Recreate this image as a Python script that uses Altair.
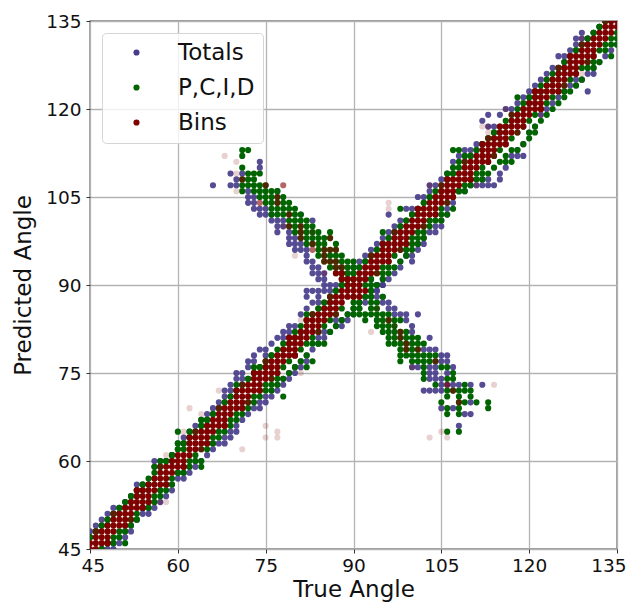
import altair as alt
import pandas as pd

TICKS = [45, 60, 75, 90, 105, 120, 135]
NAMES = ["Totals", "P,C,I,D", "Bins"]
COLORS = ["#483D8B", "#006400", "#800000"]

# true angle -> predicted angles
TOT_DIAG = {
45:[44,47,48],46:[43,44,48,49],47:[44,45,49,50],48:[44,45,50,51],49:[45,46,51,52],50:[46,47,52],51:[47,48,53],
52:[48,49,54],53:[50,55,56],54:[51,52,55,56],55:[51,52,56],56:[52,53,59,60],57:[53,60],58:[54,60],59:[55,56,61],
60:[57,58,63],61:[57,58,63,64],62:[58,59,64,65],63:[59,60,66],64:[60,66,67],65:[61,67,68],66:[62,63,69],67:[63,70],
68:[63,64,71,72],69:[64,65,72,73],70:[65,66,74,75],71:[67,74,75],72:[68,77,76],73:[69,77,78],74:[69,70,79],
75:[70,71,78,79],76:[71,72,80],77:[72,73,81],78:[73,74,81,82],79:[74,75,83,82],80:[75,76,83],81:[76,77,85],
82:[77,78,88,89,86],83:[79,89,87],84:[80,81,89,87,88],85:[81,82,89],86:[82,89,90],87:[83,84,90],88:[83,84,91],
89:[84,85,92],90:[85,93],91:[86,87,93,94],92:[87,88,95],93:[88,89,96],94:[89,90,97],95:[90,91,98],96:[91,102,99],
97:[92,100],98:[93,94,101],99:[95,96,103],100:[94,95,103],101:[96,97,105],102:[97,98,105],103:[99,107,106],
104:[99,100,107],105:[100,101,108],106:[102,103,109],107:[104,111],108:[106,112],109:[106,113,112],110:[107,113],
111:[107,114],112:[107,108,118],113:[107,108,119,117],114:[107,117],115:[108,109,119],116:[110,120],117:[112,120],
118:[112,113,121],119:[112,114,122],120:[116,122,123],121:[117,124],122:[119,125],123:[120,126],124:[121,127],
125:[122,129,127],126:[123,129,128],127:[124,130],128:[124,125,132,131],129:[125,133,132],130:[123,126,132],
131:[126,127,133],132:[128,134],133:[129,135],134:[130,135],135:[131,136]}
TOT_ARM_UP = {66:[107],69:[109,107],70:[108,107],71:[109],72:[104,106,105],73:[105,103,104],74:[111,110,102,103],75:[102,103],
76:[101,102],77:[106,100,99,101],78:[100,101],79:[97,98,99],80:[96,97,98],81:[102,96,97],82:[94,95,96],83:[101,92,93,94],84:[91,92,93],85:[91,90,92]}
TOT_ARM_DN = {92:[91],93:[91],94:[90,89,84,88],95:[90,88,87],96:[87,86],97:[86,85],98:[85],99:[85,84],100:[83,76,82],
101:[85,76],102:[79,72],103:[81,79,76,75,74,72],104:[79,76,75,74,72],105:[78,77,74,73,69,72],106:[78,77,75,73],
107:[76,73,69],108:[73,66],109:[68],110:[73,68,70],112:[73]}

GRN_DIAG = {
45:[47],46:[44,48],47:[45,49],48:[46,49,50],49:[46,51],50:[47,51],51:[46,48,52],52:[49,53],53:[50,54,55],
54:[52,55,56],55:[52,56],56:[53,57,59],57:[54,55,59,60],58:[55,60],59:[56,60,61],60:[58,65,62,63],61:[58,62,63],
62:[59,65,64],63:[60,65],64:[59,60,66,67],65:[62,66,67],66:[63,68],67:[64,69],68:[65,70],69:[66,71],70:[67,72,73],
71:[68,73],72:[69,74],73:[70,75,76],74:[71,76],75:[72,77,76],76:[72,73,78],77:[73,74,78],78:[71,74,79],79:[75,80],
80:[76,81],81:[77,82],82:[76,78,84,85],83:[77,80,85],84:[80,86],85:[80,87,86],86:[82,87,88],87:[83,89],88:[84,90],
89:[85,91],90:[86,92],91:[87,93],92:[88,94],93:[89,95],94:[90,96],95:[91,92,99,97],96:[92,93,98],97:[93,99],
98:[94,103,100],99:[95,96,101],100:[96,97,102],101:[97,98,103,102],102:[98,99,104],103:[100,101,105],104:[101,105],
105:[101,102,106],106:[102,109,108],107:[103,113,110,109],108:[106,113,111],109:[106,112],110:[107,108,112],
111:[108,113],112:[108,109,114],113:[109,115],114:[110,115,116],115:[111,116],116:[111,112,117],117:[111,113,118],
118:[113,122,119],119:[114,120],120:[115,116,121],121:[116,117,122],122:[118,123],123:[119,124],124:[120,125],
125:[121,126],126:[122,123,127],127:[123,129],128:[124,130],129:[125,131],130:[127,131,132],131:[127,128,133],
132:[128,134],133:[130,135],134:[129,131,135],135:[131,132]}
GRN_BAND = {
45:[47],46:[44,48],47:[45,49],48:[46,50],49:[47,51],50:[48,52],51:[49,53],52:[50,54],53:[51,55],54:[52,56],55:[53,57],
56:[54,58],57:[55,59],58:[56,60],59:[57,61],60:[58,62],61:[59,63],62:[60,64],63:[61,65],64:[62,66],65:[63,67],66:[64,68],
67:[65,69],68:[66,70],69:[67,71],70:[68,72],71:[69,73],72:[70,74],73:[71,75],74:[72,76],75:[73,77],76:[74,78],77:[75,79],
78:[76,80],79:[77,81],80:[78,82],81:[79,83],82:[80,84],83:[81,85],84:[82,86],85:[83,87],86:[84,88],87:[85,89],88:[86,90],
92:[90,94],93:[91,95],94:[92,96],95:[93,97],96:[94,98],97:[95,99],98:[96,100],99:[97,101],100:[98,102],101:[99,103],
102:[100,104],103:[101,105],104:[102,106],105:[103,107],106:[104,108],107:[105,109],108:[106,110],109:[107,111],
110:[108,112],111:[109,113],112:[110,114],113:[111,115],114:[112,116],115:[113,117],116:[114,118],117:[115,119],
118:[116,120],119:[117,121],120:[118,122],121:[119,123],122:[120,124],123:[121,125],124:[122,126],125:[123,127],
126:[124,128],127:[125,129],128:[126,130],129:[127,131],130:[128,132],131:[129,133],132:[130,134],133:[131,135],134:[132],135:[133]}
GRN_ARM_UP = {71:[113,112,110,108,107,106],72:[113,109,108,107],73:[109,108,107,106],74:[109,107,106,105],
75:[107,106,105,104],76:[106,105,104,103,102],77:[106,105,104,103,102],78:[105,104,103,102],79:[104,103,102,101,100],
80:[103,102,101,100,99],81:[102,101,100,99,98],82:[101,100,99,98,97],83:[100,99,98,97],84:[99,98,97,96,95],
85:[98,97,96,95,94],86:[99,98,96,95,94,93],87:[97,96,95,94,93,92],88:[95,94,93,92,91],89:[94,93,92,91,90],90:[94,93,92,91]}
GRN_ARM_DN = {90:[88,87,86,85],91:[87,86,85],92:[85,84],93:[90,89,88,87,86,85],94:[87,86,85,84,83],95:[88,85,84,83,82],
96:[85,84,83,82,81,80],97:[84,83,82,81,80],98:[84,82,81,80,79,78,77],99:[82,81,80,79,78],100:[81,80,79,78,77],101:[81,80,79,78,77],
102:[80,78,77,76,75,74],103:[78,77],104:[78,77,73],105:[76,70],106:[76,74,72,71,69,68,65],107:[75,74,72],
108:[72,71,70,69,68,65],109:[73,72,70],110:[72,71],111:[70],113:[70,69]}

BIN_FAINT = {62:[69],67:[72],64:[68],75:[66,64],77:[65,64],71:[62],81:[75,84],57:[53],58:[53,61],61:[65],68:[112],
70:[111,109,106],78:[100],83:[99],80:[95],85:[92],103:[107,64],111:[107],122:[119],116:[120],114:[73],105:[65],
106:[64],100:[76],94:[86],97:[83],93:[82],113:[117,116],112:[117],96:[103,104],131:[132],129:[126,132]}
BIN_MID_DIAG = {
46:[48],48:[46],49:[51],52:[50],53:[55],57:[59],58:[56],61:[59],63:[65],64:[62],67:[69],68:[66],71:[73],72:[70],
75:[77],76:[74],79:[81],80:[78],83:[85],84:[82],86:[88],87:[85],93:[95],94:[92],97:[99],98:[96],101:[103],102:[100],
105:[107],106:[104],109:[111],110:[108],113:[115],114:[112],117:[119],118:[116],121:[123],122:[120],125:[127],
126:[124],129:[131],130:[128],133:[135]}
BIN_MID_ARM = {71:[108],74:[104],75:[107],77:[105,104],78:[107],79:[102,100],81:[100,99,98],83:[97,96],85:[96,95,94],
86:[98,96,94],87:[96,94,93],88:[92,93],96:[84],98:[82,81],99:[80,79],101:[79],104:[77],106:[73],107:[72],108:[70]}
BIN_STRONG = {
45:[45,46],46:[45,46,47],47:[46,47,48],48:[46,47,48,49],49:[48,49,50],50:[49,50,51],51:[49,50,51,52],52:[51,52,53],
53:[52,53,54,55],54:[52,53,54,55],55:[53,54,55,56],56:[55,56,57],57:[56,57,58],58:[56,57,58,59],59:[58,59,60],
60:[59,60,61],61:[59,60,61],62:[61,62,63,64],63:[62,63,64],64:[63,64,65],65:[63,64,65,66],66:[65,66,67],67:[66,67,68],
68:[66,67,68,69],69:[68,69,70],70:[69,70,71,72],71:[69,70,71,72],72:[71,72,73],73:[72,73,74,75],74:[72,73,74,75],
75:[74,75,76],76:[75,76,77],77:[75,76,77,78],78:[77,78,79],79:[78,79,80,81],80:[78,79,80,81],81:[80,81,82],
82:[81,82,83,84],83:[82,83,84],84:[83,84,85],85:[84,85,86],86:[85,86,87],87:[86,87,88,92],88:[87,88,89,91,92],
89:[88,89,90,91],90:[88,89,90,91],91:[88,89,90,91,92],92:[89,91,92,93],93:[92,93,94],94:[93,94,95],95:[94,95,96,97],
96:[94,95,96,97],97:[96,97,98],98:[97,98,99],99:[97,98,99,100],100:[99,100,101],101:[100,101,102,103],102:[101,102,103],
103:[102,103,104],104:[102,103,104,105],105:[104,105,106],106:[105,106,107,108],107:[105,106,107,108],108:[107,108,109],
109:[108,109,110],110:[108,109,110,111],111:[110,111,112],112:[111,112,113,114],113:[111,112,113,114],114:[113,114,115],
115:[114,115,116,117],116:[114,115,116,117],117:[116,117,118],118:[117,118,119],119:[117,118,119,120],120:[119,120,121],
121:[120,121,122,123],122:[120,121,122,123],123:[122,123,124],124:[123,124,125],125:[123,124,125,126],126:[125,126,127],
127:[126,127,128,129],128:[126,127,128,129],129:[128,129,130],130:[129,130,131],131:[129,130,131,132],132:[131,132,133],
133:[132,133,134],134:[133,134,135],135:[134,135]}

rows = []
def add(name, cols, op):
    for x, ys in cols.items():
        for y in ys:
            rows.append({"true": x, "pred": y, "series": name, "op": op})

add("Totals", TOT_DIAG, 0.92); add("Totals", TOT_ARM_UP, 0.92); add("Totals", TOT_ARM_DN, 0.92)
add("P,C,I,D", GRN_DIAG, 1); add("P,C,I,D", GRN_BAND, 1); add("P,C,I,D", GRN_ARM_UP, 1); add("P,C,I,D", GRN_ARM_DN, 1)
add("Bins", BIN_FAINT, 0.18); add("Bins", BIN_MID_DIAG, 0.7); add("Bins", BIN_MID_ARM, 0.6); add("Bins", BIN_STRONG, 1)
df = pd.DataFrame(rows)

chart = (
    alt.Chart(df)
    .mark_point(filled=True, size=38, clip=True, strokeWidth=0)
    .encode(
        x=alt.X("true:Q", scale=alt.Scale(domain=[45, 135], nice=False),
                axis=alt.Axis(values=TICKS, title="True Angle", labelFlush=True, labelFlushOffset=9)),
        y=alt.Y("pred:Q", scale=alt.Scale(domain=[45, 135], nice=False),
                axis=alt.Axis(values=TICKS, title="Predicted Angle", labelFlush=False, labelPadding=5, titlePadding=10)),
        color=alt.Color("series:N", scale=alt.Scale(domain=NAMES, range=COLORS),
                        legend=alt.Legend(title=None, orient="none", legendX=12, legendY=12,
                                          labelFontSize=23, labelFont="DejaVu Sans", labelColor="#111",
                                          symbolSize=38, symbolType="circle", symbolOpacity=1,
                                          symbolStrokeWidth=0, rowPadding=11, labelOffset=30,
                                          symbolOffset=15, padding=8,
                                          fillColor="rgba(255,255,255,0.8)", strokeColor="#d5d5d5",
                                          cornerRadius=4)),
        opacity=alt.Opacity("op:Q", scale=None),
    )
    .properties(width=527, height=528, autosize=alt.AutoSizeParams(type="none"),
                padding={"left": 82, "top": 13, "right": 9, "bottom": 56})
    .configure_view(stroke="#333333", strokeWidth=1.3)
    .configure_axis(grid=True, gridColor="#b4b4b4", gridWidth=1.3, domain=False, tickColor="#333",
                    tickSize=4, labelFont="DejaVu Sans", labelFontSize=18.5, labelColor="#111",
                    titleFont="DejaVu Sans", titleFontSize=23, titleFontWeight="normal", titleColor="#111",
                    labelPadding=3, titlePadding=12, labelOverlap=False)
    .configure_axisX(titlePadding=4)
)
chart.save("out.html", embed_options={"renderer": "svg", "actions": False})
